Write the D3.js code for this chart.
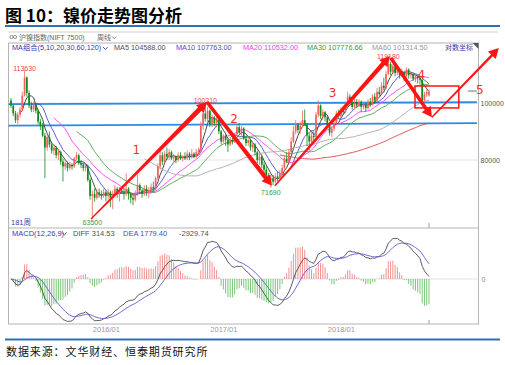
<!DOCTYPE html>
<html><head><meta charset="utf-8">
<script src="https://cdn.jsdelivr.net/npm/d3@7"></script>
<style>
body{margin:0;background:#fff}
svg{display:block}
text{font-family:"Liberation Sans",Arial,"Noto Sans CJK SC",sans-serif}
</style>
</head><body>
<svg id="c" width="505" height="365"></svg>
<script>
// ---------------- DATA (weekly, prices in thousand yuan) ----------------
const startDate = new Date(2015, 2, 16);
const opens = [
101.0,99.0,96.0,93.5,95.5,97.5,103.0,110.5,104.0,99.0,
97.5,99.5,97.0,93.0,91.5,88.0,84.0,87.5,85.0,83.0,
84.0,81.5,82.5,79.5,78.0,79.0,77.5,78.5,78.0,80.5,
81.5,79.0,78.5,77.5,78.0,74.0,69.5,70.0,69.0,70.5,
70.0,69.5,70.5,69.5,70.5,69.0,70.0,71.5,70.0,71.0,
70.5,70.0,71.5,70.0,69.0,68.5,70.0,72.5,71.0,70.0,
71.5,70.5,71.0,72.0,71.5,74.5,78.0,81.5,79.5,82.0,
81.0,82.5,80.5,81.0,80.0,81.5,80.5,81.0,80.5,82.0,
81.0,82.0,81.0,82.5,83.0,91.5,96.0,94.0,97.0,92.0,
94.5,92.5,93.5,89.5,86.0,88.0,86.5,85.0,86.5,86.0,
88.5,91.0,89.0,90.5,87.0,85.5,86.5,84.0,85.0,82.5,
80.0,81.0,78.5,77.0,75.5,74.0,74.5,73.5,75.0,74.5,
76.0,77.5,80.5,79.5,82.5,86.0,89.5,92.0,90.0,91.5,
93.5,92.0,88.0,86.0,88.0,87.5,95.5,99.0,95.0,96.5,
94.5,92.0,89.0,90.5,92.5,96.0,95.0,97.5,96.5,99.5,
102.5,100.5,98.5,100.0,99.0,100.5,98.5,99.5,98.0,100.5,
99.5,102.5,101.0,104.5,103.5,107.0,106.0,112.0,116.5,113.0,
115.5,112.5,114.0,111.5,113.0,111.0,114.0,111.5,112.0,110.0,
111.0,110.19,109.5,101.0,103.5,103.0];
const closes = [
99.0,96.0,93.5,95.5,97.5,103.0,110.5,104.0,99.0,97.5,
99.5,97.0,93.0,91.5,88.0,84.0,87.5,85.0,83.0,84.0,
81.5,82.5,79.5,78.0,79.0,77.5,78.5,78.0,80.5,81.5,
79.0,78.5,77.5,78.0,74.0,69.5,70.0,69.0,70.5,70.0,
69.5,70.5,69.5,70.5,69.0,70.0,71.5,70.0,71.0,70.5,
70.0,71.5,70.0,69.0,68.5,70.0,72.5,71.0,70.0,71.5,
70.5,71.0,72.0,71.5,74.5,78.0,81.5,79.5,82.0,81.0,
82.5,80.5,81.0,80.0,81.5,80.5,81.0,80.5,82.0,81.0,
82.0,81.0,82.5,83.0,91.5,96.0,94.0,97.0,92.0,94.5,
92.5,93.5,89.5,86.0,88.0,86.5,85.0,86.5,86.0,88.5,
91.0,89.0,90.5,87.0,85.5,86.5,84.0,85.0,82.5,80.0,
81.0,78.5,77.0,75.5,74.0,74.5,73.5,75.0,74.5,76.0,
77.5,80.5,79.5,82.5,86.0,89.5,92.0,90.0,91.5,93.5,
92.0,88.0,86.0,88.0,87.5,95.5,99.0,95.0,96.5,94.5,
92.0,89.0,90.5,92.5,96.0,95.0,97.5,96.5,99.5,102.5,
100.5,98.5,100.0,99.0,100.5,98.5,99.5,98.0,100.5,99.5,
102.5,101.0,104.5,103.5,107.0,106.0,112.0,116.5,113.0,115.5,
112.5,114.0,111.5,113.0,111.0,114.0,111.5,112.0,110.0,111.0,
110.19,109.5,101.0,103.5,104.5,104.44];
const highs = [
102.0,99.5,97.0,96.5,98.5,104.5,113.63,111.0,105.0,100.5,
100.5,100.0,97.5,94.0,92.5,89.0,88.5,89.5,86.0,85.0,
84.5,83.5,83.0,80.5,80.0,79.5,79.5,79.0,81.0,82.5,
82.0,80.0,79.0,79.0,78.5,74.5,71.0,71.5,71.5,71.5,
71.0,71.5,71.0,71.5,71.0,71.0,72.5,72.0,72.0,72.0,
71.5,76.0,72.0,70.5,70.0,71.0,75.5,73.0,71.5,72.5,
72.5,72.0,73.0,73.5,75.0,79.0,83.0,82.5,83.0,84.0,
83.5,83.0,82.0,81.5,82.5,82.5,81.5,82.5,83.0,82.5,
83.5,82.5,83.5,84.0,93.0,97.5,100.21,98.5,97.5,95.5,
95.0,95.5,94.0,90.0,88.5,88.5,87.0,87.5,87.5,89.0,
92.0,92.5,91.5,91.0,88.0,87.5,87.0,86.0,85.5,83.0,
82.0,81.5,79.5,78.0,76.0,75.5,75.5,76.0,76.5,77.0,
78.5,81.5,82.5,83.5,87.5,91.5,93.5,92.5,93.0,97.0,
97.5,92.5,89.0,89.0,89.5,96.5,101.0,99.5,97.5,97.0,
95.0,92.5,91.5,93.5,97.0,97.5,98.5,99.0,100.5,104.5,
103.5,101.0,101.5,101.5,101.5,101.0,100.5,100.0,101.5,102.0,
103.5,104.0,106.0,106.5,108.5,110.5,113.5,119.18,117.5,116.5,
116.0,115.5,114.5,114.5,113.5,115.0,114.5,113.0,112.5,112.0,
111.5,111.0,110.0,104.5,105.5,105.5];
const lows = [
98.0,95.0,92.5,92.0,94.5,97.0,102.5,102.5,98.0,96.5,
96.5,96.0,92.0,90.0,87.5,74.5,83.0,84.0,82.0,81.5,
80.5,80.0,78.5,73.5,77.0,76.5,77.0,77.0,77.5,80.0,
78.5,77.5,76.5,76.5,73.5,68.5,63.5,68.0,68.5,69.0,
68.5,69.0,68.0,68.5,66.5,66.0,69.0,69.0,68.0,70.0,
68.5,69.5,68.5,67.5,67.0,68.0,69.5,70.0,69.0,69.5,
69.5,69.0,70.0,70.5,71.0,74.0,77.0,78.5,79.0,80.0,
80.0,80.0,79.5,79.0,79.5,80.0,79.5,80.0,80.0,80.0,
80.5,80.5,80.5,81.5,82.5,90.0,93.0,92.5,91.0,91.0,
91.5,91.0,88.5,85.0,85.5,84.5,82.5,84.5,85.0,85.5,
88.0,88.5,88.0,86.5,84.5,84.5,83.0,82.5,81.5,79.0,
78.5,77.5,76.0,74.5,73.0,71.69,72.5,73.0,73.5,74.0,
75.5,77.0,79.0,79.0,82.0,85.5,88.5,89.0,88.5,91.0,
91.5,84.5,83.0,85.0,86.0,87.0,94.5,94.0,93.5,93.0,
91.0,88.0,87.5,89.5,92.0,94.0,94.5,95.5,96.0,99.0,
99.5,97.5,97.5,98.0,98.5,96.5,97.5,96.5,97.5,98.5,
99.0,100.0,100.5,102.5,103.0,105.0,105.5,111.5,111.5,112.0,
111.0,111.5,110.0,110.5,109.0,110.5,110.0,110.0,109.0,108.5,
108.0,107.5,99.5,100.5,102.5,102.5];

const maPeriods = [5, 10, 20, 30, 60, 120];
const maColors  = ["#333333", "#4b4bcf", "#ff40ff", "#4da54d", "#a9a9a9", "#dd4444"];
const maLegend  = ["MA5 104588.00", "MA10 107763.00", "MA20 110532.00", "MA30 107776.66", "MA60 101314.50"];
const macdLegend = ["DIFF 314.53", "DEA 1779.40", "-2929.74"];
const xTickLabels = ["2016/01", "2017/01", "2018/01"];
const yTickValues = [80, 100];                 // thousand yuan
const hiLoMarks = [                            // [week index, price, label, kind]
  [6, 113.63, "113630", "hi"], [86, 100.21, "100210", "hi"], [167, 119.18, "119180", "hi"],
  [36, 63.5, "63500", "lo"], [115, 71.69, "71690", "lo"]];
// annotations drawn by the analyst (in week-index / price space)
const supportLines = [[[-1.3, 99.6], [206.2, 100.3]], [[-1.3, 91.5], [206.2, 92.4]]];
const arrows = [ // from, to, startWidth, endWidth
  [[35.4, 63.5], [86.7, 100.4], 1.2, 5],
  [[86.7, 100.4], [115.5, 72.3], 3.5, 4.5],
  [[116.8, 72.3], [167.7, 120.2], 1.5, 4.5],
  [[168.1, 119.3], [186.3, 94.6], 3.5, 3.5],
  [[186.3, 94.6], [215.9, 124.0], 1.5, 2.5]];
const waveLabels = [["1", 55.5, 81.9], ["2", 98.7, 92.5], ["3", 142.3, 102.4], ["4", 181.6, 109.9], ["5", 207.5, 103.6]];
const boxArea = [[178.8, 106.9], [198.2, 98.1]];

// ---------------- LAYOUT ----------------
const svg = d3.select("#c");
const N = closes.length;
const dates = d3.timeMonday.range(startDate, new Date(2019, 0, 1)).slice(0, N);
const L = 8.5, R = 478.5, PT = 43, PB = 228, MB = 324;
const x = d3.scaleLinear().domain([0, N - 1]).range([11, 429]);
const xt = d3.scaleTime().domain([dates[0], dates[N - 1]]).range([11, 429]);
const y = d3.scaleLog().domain([61.3, 126.5]).range([PB, PT]);

const defs = svg.append("defs");
defs.append("clipPath").attr("id", "cm").append("rect").attr("x", L).attr("y", PT).attr("width", R - L).attr("height", PB - PT);
defs.append("clipPath").attr("id", "cd").append("rect").attr("x", L).attr("y", PB).attr("width", R - L).attr("height", MB - PB);

// title
svg.append("text").attr("x", 5).attr("y", 22).text("图 10：镍价走势图分析")
  .style("font-family", "'Noto Sans CJK SC'").style("font-weight", "bold").style("font-size", "17px").attr("fill", "#000");
svg.append("rect").attr("x", 5).attr("y", 25).attr("width", 495).attr("height", 2).attr("fill", "#2f70b4");
svg.append("rect").attr("x", 5).attr("y", 338.5).attr("width", 495).attr("height", 2).attr("fill", "#2f70b4");
svg.append("text").attr("x", 6).attr("y", 356).text("数据来源：文华财经、恒泰期货研究所")
  .style("font-family", "'Noto Sans CJK SC'").style("font-size", "11px").style("letter-spacing", "0.9px").attr("fill", "#111");

// toolbar
svg.append("line").attr("x1", L).attr("x2", 498).attr("y1", 32).attr("y2", 32).attr("stroke", "#d0d0d0");
svg.append("circle").attr("cx", 11.5).attr("cy", 37).attr("r", 1.6).attr("fill", "none").attr("stroke", "#777").attr("stroke-width", 0.8);
svg.append("circle").attr("cx", 15).attr("cy", 37).attr("r", 1.6).attr("fill", "none").attr("stroke", "#777").attr("stroke-width", 0.8);
svg.append("text").attr("x", 19).attr("y", 39.5).text("沪镍指数(NIFT 7500)").style("font-size", "7px").attr("fill", "#666");
svg.append("text").attr("x", 97).attr("y", 39.5).text("周线").style("font-size", "7px").attr("fill", "#666");
svg.append("path").attr("d", "M112,36.5 l2.2,2.2 l2.2,-2.2").attr("fill", "none").attr("stroke", "#666").attr("stroke-width", 0.8);

// frame
svg.append("rect").attr("x", L).attr("y", PT).attr("width", R - L).attr("height", MB - PT).attr("fill", "none").attr("stroke", "#b4b4b4");
svg.append("line").attr("x1", L).attr("x2", R).attr("y1", PB).attr("y2", PB).attr("stroke", "#b4b4b4");
svg.append("path").attr("d", `M${R - 6},${PT} L${R},${PT} L${R},${PT + 6} Z`).attr("fill", "#555");

// grid
const gMain = svg.append("g").attr("clip-path", "url(#cm)");
yTickValues.forEach(v => gMain.append("line").attr("x1", L).attr("x2", R).attr("y1", y(v)).attr("y2", y(v)).attr("stroke", "#e4e4e4"));

// right axis labels
const ay = svg.append("g").attr("transform", `translate(${R},0)`)
  .call(d3.axisRight(y).tickValues(yTickValues).tickSize(0).tickPadding(2).tickFormat(d => String(d * 1000)));
ay.select(".domain").remove();
ay.selectAll("text").style("font-size", "7px").attr("fill", "#555").style("font-family", "'Liberation Sans',Arial");

// support lines
supportLines.forEach(s => gMain.append("line")
  .attr("x1", x(s[0][0])).attr("y1", y(s[0][1])).attr("x2", x(s[1][0])).attr("y2", y(s[1][1]))
  .attr("stroke", "#2b8ce6").attr("stroke-width", 1.8));

// MAs
function ma(p) { return closes.map((c, i) => i < p - 1 ? null : d3.mean(closes.slice(i - p + 1, i + 1))); }
maPeriods.forEach((p, k) => {
  const vals = ma(p);
  const line = d3.line().defined(d => d[1] != null).x(d => x(d[0])).y(d => y(d[1]));
  gMain.append("path").datum(vals.map((v, i) => [i, v])).attr("d", line)
    .attr("fill", "none").attr("stroke", maColors[k]).attr("stroke-width", 0.9);
});

// candles
const upC = "#f26262", dnC = "#14891a";
const cg = gMain.append("g");
closes.forEach((c, i) => {
  const o = opens[i], up = c >= o, col = up ? upC : dnC;
  cg.append("line").attr("x1", x(i)).attr("x2", x(i)).attr("y1", y(highs[i])).attr("y2", y(lows[i]))
    .attr("stroke", col).attr("stroke-width", 0.8);
  const yt = y(Math.max(o, c)), yb = y(Math.min(o, c));
  cg.append("rect").attr("x", x(i) - 0.85).attr("width", 1.7).attr("y", yt).attr("height", Math.max(1, yb - yt)).attr("fill", col);
});
// cursor ticks
svg.append("line").attr("x1", x(N - 1)).attr("x2", x(N - 1)).attr("y1", PB - 5).attr("y2", PB).attr("stroke", "#999");
svg.append("line").attr("x1", x(N - 1)).attr("x2", x(N - 1)).attr("y1", MB - 4).attr("y2", MB).attr("stroke", "#999");

// hi/lo labels
hiLoMarks.forEach(([i, v, lab, kind]) => {
  svg.append("text").attr("x", x(i)).attr("y", kind === "hi" ? y(v) + 0.8 : y(v) + 6.5)
    .attr("text-anchor", "middle").text(lab).style("font-size", "7px")
    .attr("fill", kind === "hi" ? "#e84848" : "#3a9a3a");
});
svg.append("text").attr("x", 11).attr("y", 225).text("181周").style("font-size", "7.5px").attr("fill", "#3d3dab");

// legends
function chevron(xp, yp, col) {
  svg.append("path").attr("d", `M${xp},${yp} l2.4,2.4 l2.4,-2.4`).attr("fill", "none").attr("stroke", col).attr("stroke-width", 0.9);
}
svg.append("text").attr("x", 12).attr("y", 50).text("MA组合(5,10,20,30,60,120)").style("font-size", "7.3px").attr("fill", "#3d3dab");
chevron(103, 47, "#3d3dab");
const legX = [114, 176, 243, 307, 372];
const legCol = ["#505050", "#4b4bcf", "#ff33ff", "#3d9a3d", "#9a9a9a"];
maLegend.forEach((t, k) => svg.append("text").attr("x", legX[k]).attr("y", 50).text(t).style("font-size", "7.3px").attr("fill", legCol[k]));
svg.append("text").attr("x", 445).attr("y", 50).text("对数坐标").style("font-size", "7px").attr("fill", "#3535a8");

// ---------------- MACD ----------------
function ema(arr, n) { const out = []; arr.forEach((v, i) => out.push(i === 0 ? v : out[i - 1] * (n - 1) / (n + 1) + v * 2 / (n + 1))); return out; }
const e12 = ema(closes, 12), e26 = ema(closes, 26);
const diff = e12.map((v, i) => v - e26[i]);
const dea = ema(diff, 9);
const hist = diff.map((v, i) => 2 * (v - dea[i]));
const minV = d3.min(diff);
const ym = d3.scaleLinear().domain([minV, 0]).range([321.5, 279]);
const gM = svg.append("g").attr("clip-path", "url(#cd)");
gM.append("line").attr("x1", L).attr("x2", R).attr("y1", ym(0)).attr("y2", ym(0)).attr("stroke", "#ececec").attr("stroke-width", 1.5);
hist.forEach((h, i) => {
  gM.append("line").attr("x1", x(i)).attr("x2", x(i)).attr("y1", ym(0)).attr("y2", ym(h))
    .attr("stroke", h >= 0 ? "#f08484" : "#6cbf6c").attr("stroke-width", 0.9);
});
gM.append("path").datum(diff).attr("d", d3.line().x((d, i) => x(i)).y(d => ym(d))).attr("fill", "none").attr("stroke", "#4a4a4a").attr("stroke-width", 0.9);
gM.append("path").datum(dea).attr("d", d3.line().x((d, i) => x(i)).y(d => ym(d))).attr("fill", "none").attr("stroke", "#5b5bd0").attr("stroke-width", 0.9);
svg.append("text").attr("x", R + 3).attr("y", ym(0) + 2.5).text("0").style("font-size", "7px").attr("fill", "#888");

svg.append("text").attr("x", 12).attr("y", 235.5).text("MACD(12,26,9)").style("font-size", "7.5px").attr("fill", "#3d3dab");
chevron(62, 232.5, "#3d3dab");
const mLegX = [73, 123, 179], mLegCol = ["#505050", "#4b4bcf", "#505050"];
macdLegend.forEach((t, k) => svg.append("text").attr("x", mLegX[k]).attr("y", 235.5).text(t).style("font-size", "7.5px").attr("fill", mLegCol[k]));

// bottom time axis
const tickDates = xTickLabels.map(s => { const [yy, mm] = s.split("/").map(Number); return dates.find(d => d.getFullYear() === yy && d.getMonth() === mm - 1); });
const ax = svg.append("g").attr("transform", `translate(0,${MB})`)
  .call(d3.axisBottom(xt).tickValues(tickDates).tickSize(0).tickPadding(3).tickFormat(d3.timeFormat("%Y/%m")));
ax.select(".domain").remove();
ax.selectAll("text").style("font-size", "7.5px").attr("fill", "#9a9a9a").style("font-family", "'Liberation Sans',Arial");

// ---------------- ANNOTATIONS ----------------
const red = "#ff1414";
function drawArrow(a, b, w0, w1) {
  const p0 = [x(a[0]), y(a[1])], p1 = [x(b[0]), y(b[1])];
  const dx = p1[0] - p0[0], dy = p1[1] - p0[1], len = Math.hypot(dx, dy);
  const u = [dx / len, dy / len], n = [-u[1], u[0]];
  const hl = 10, hw = 5.5;
  const bse = [p1[0] - u[0] * hl, p1[1] - u[1] * hl];
  const pts = [
    [p0[0] + n[0] * w0 / 2, p0[1] + n[1] * w0 / 2],
    [bse[0] + n[0] * w1 / 2, bse[1] + n[1] * w1 / 2],
    [bse[0] + n[0] * hw, bse[1] + n[1] * hw],
    p1,
    [bse[0] - n[0] * hw, bse[1] - n[1] * hw],
    [bse[0] - n[0] * w1 / 2, bse[1] - n[1] * w1 / 2],
    [p0[0] - n[0] * w0 / 2, p0[1] - n[1] * w0 / 2]];
  svg.append("polygon").attr("points", pts.map(p => p.join(",")).join(" ")).attr("fill", red);
}
arrows.forEach(a => drawArrow(a[0], a[1], a[2], a[3]));
svg.append("rect").attr("x", x(boxArea[0][0])).attr("y", y(boxArea[0][1]))
  .attr("width", x(boxArea[1][0]) - x(boxArea[0][0])).attr("height", y(boxArea[1][1]) - y(boxArea[0][1]))
  .attr("fill", "none").attr("stroke", red).attr("stroke-width", 1.5);
svg.append("line").attr("x1", x(202.2)).attr("x2", x(206.2)).attr("y1", y(104.8)).attr("y2", y(104.8)).attr("stroke", "#6a6ab8").attr("stroke-width", 1);
waveLabels.forEach(([t, i, v]) => svg.append("text").attr("x", x(i)).attr("y", y(v)).attr("text-anchor", "middle")
  .text(t).style("font-size", "12px").style("font-family", "'DejaVu Sans',sans-serif").attr("fill", "#f03030"));
</script>
</body></html>
